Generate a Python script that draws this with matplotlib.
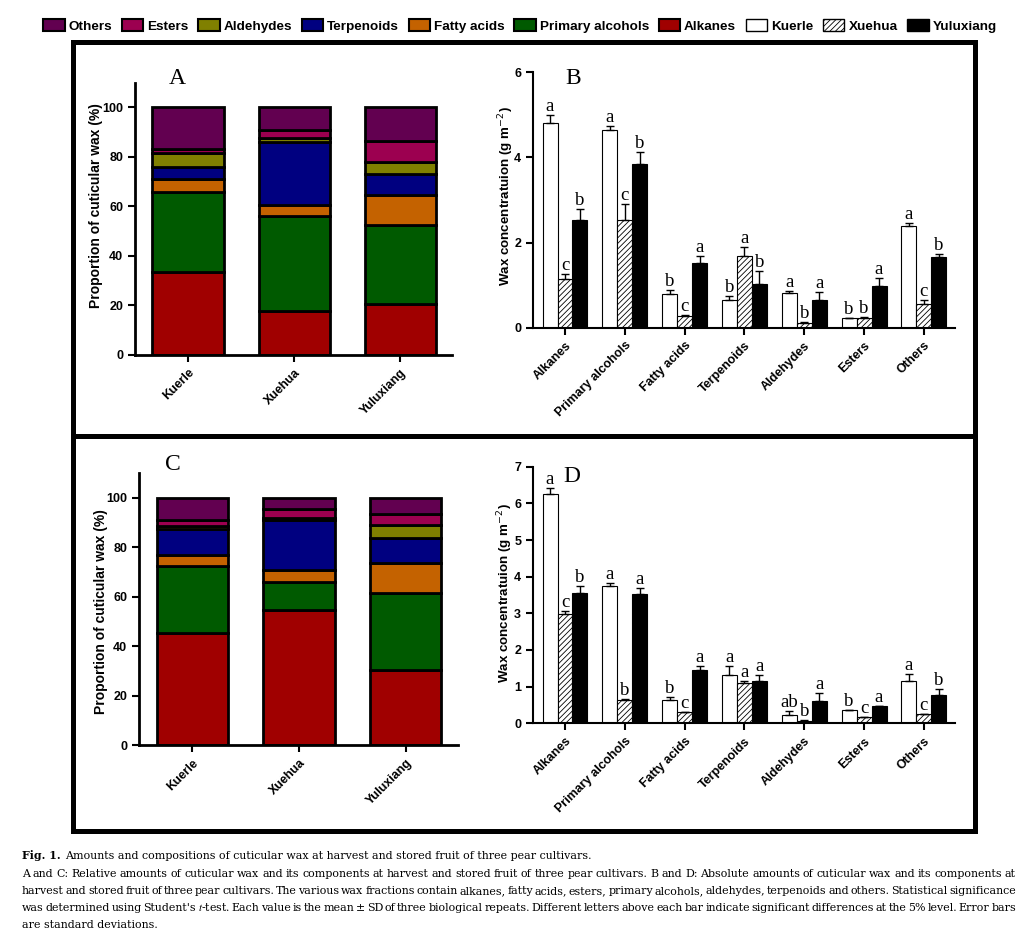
import numpy as np
import matplotlib
matplotlib.use('Agg')
import matplotlib.pyplot as plt
from matplotlib.patches import Patch, Rectangle
from matplotlib.lines import Line2D

# ---- data ----
cultivars = ['Kuerle', 'Xuehua', 'Yuluxiang']
fractions = ['Alkanes', 'Primary alcohols', 'Fatty acids', 'Terpenoids',
             'Aldehydes', 'Esters', 'Others']
frac_colors = ['#a00000', '#005a00', '#c46200', '#000080',
               '#808000', '#9c0050', '#620050']

# A: proportions (%) at harvest, bottom -> top in fractions order
kuerle_A = [33.5, 32.5, 5.0, 5.0, 5.5, 1.5, 17.0]
xuehua_A = [17.5, 38.5, 4.5, 25.5, 1.5, 3.5, 9.0]
yuluxiang_A = [20.5, 32.0, 12.0, 8.5, 5.0, 8.5, 13.5]

# C: proportions (%) of stored fruit
kuerle_C = [45.5, 27.0, 4.5, 10.5, 1.0, 2.5, 9.0]
xuehua_C = [54.5, 11.5, 5.0, 20.0, 1.0, 3.5, 4.5]
yuluxiang_C = [30.5, 31.0, 12.0, 10.5, 5.0, 4.5, 6.5]

# B: absolute amounts (g m-2) at harvest
kuerle_B = [4.80, 4.65, 0.78, 0.66, 0.82, 0.22, 2.38]
kuerle_B_sd = [0.20, 0.08, 0.10, 0.08, 0.04, 0.01, 0.08]
kuerle_B_let = ['a', 'a', 'b', 'b', 'a', 'b', 'a']
xuehua_B = [1.15, 2.53, 0.28, 1.69, 0.12, 0.22, 0.56]
xuehua_B_sd = [0.12, 0.38, 0.02, 0.20, 0.02, 0.03, 0.09]
xuehua_B_let = ['c', 'c', 'c', 'a', 'b', 'b', 'c']
yuluxiang_B = [2.53, 3.85, 1.52, 1.03, 0.66, 0.98, 1.66]
yuluxiang_B_sd = [0.27, 0.27, 0.17, 0.30, 0.17, 0.19, 0.08]
yuluxiang_B_let = ['b', 'b', 'a', 'b', 'a', 'a', 'b']

# D: absolute amounts (g m-2) of stored fruit
kuerle_D = [6.26, 3.75, 0.64, 1.31, 0.23, 0.36, 1.16]
kuerle_D_sd = [0.15, 0.07, 0.07, 0.25, 0.10, 0.01, 0.18]
kuerle_D_let = ['a', 'a', 'b', 'a', 'ab', 'b', 'a']
xuehua_D = [2.98, 0.64, 0.30, 1.09, 0.06, 0.16, 0.25]
xuehua_D_sd = [0.07, 0.02, 0.02, 0.06, 0.02, 0.01, 0.01]
xuehua_D_let = ['c', 'b', 'c', 'a', 'b', 'c', 'c']
yuluxiang_D = [3.55, 3.52, 1.45, 1.16, 0.60, 0.46, 0.77]
yuluxiang_D_sd = [0.20, 0.17, 0.12, 0.15, 0.22, 0.02, 0.16]
yuluxiang_D_let = ['b', 'a', 'a', 'a', 'a', 'a', 'b']

caption_title = 'Amounts and compositions of cuticular wax at harvest and stored fruit of three pear cultivars.'
caption_lines = [
    "A and C: Relative amounts of cuticular wax and its components at harvest and stored fruit of three pear cultivars. B and D: Absolute amounts of cuticular wax and its components at",
    "harvest and stored fruit of three pear cultivars. The various wax fractions contain alkanes, fatty acids, esters, primary alcohols, aldehydes, terpenoids and others. Statistical significance",
    "was determined using Student's $\\mathit{t}$-test. Each value is the mean \u00b1 SD of three biological repeats. Different letters above each bar indicate significant differences at the 5% level. Error bars",
    "are standard deviations.",
]

W, H = 1029, 935
plt.rcParams['font.family'] = ['Liberation Sans', 'DejaVu Sans']
plt.rcParams['hatch.linewidth'] = 0.6


def fx(px):
    return px / W


def fy(py):
    return 1 - py / H


def style_axes(ax, lw=2):
    for s in ['top', 'right']:
        ax.spines[s].set_visible(False)
    for s in ['left', 'bottom']:
        ax.spines[s].set_linewidth(lw)
    ax.tick_params(direction='out', width=1.5, length=5, labelsize=9)
    for lab in ax.get_yticklabels() + ax.get_xticklabels():
        lab.set_fontweight('bold')


def stacked(ax, rows, ylab_pos):
    vals = np.array(rows)
    x = np.arange(len(cultivars))
    bottom = np.zeros(len(cultivars))
    for j, col in enumerate(frac_colors):
        ax.bar(x, vals[:, j], 0.67, bottom=bottom, color=col,
               edgecolor='black', linewidth=2)
        bottom += vals[:, j]
    ax.set_xlim(-0.5, 2.49)
    ax.set_ylim(0, 110)
    ax.set_yticks([0, 20, 40, 60, 80, 100])
    ax.set_xticks(x)
    ax.set_xticklabels(cultivars, rotation=45, ha='right', rotation_mode='anchor')
    ax.set_ylabel('Proportion of cuticular wax (%)', fontsize=10, fontweight='bold')
    ax.yaxis.set_label_coords(*ylab_pos)
    style_axes(ax, 2)


def grouped(ax, series, ymax, ylab_pos):
    pos = np.arange(len(fractions))
    w = 0.25
    styles = [dict(color='white', edgecolor='black'),
              dict(color='white', edgecolor='black', hatch='//////'),
              dict(color='black', edgecolor='black')]
    for i, ((v, sd, let), st) in enumerate(zip(series, styles)):
        xx = pos + (i - 1) * w
        ax.bar(xx, v, w, linewidth=0.8, **st)
        ax.errorbar(xx, v, yerr=[np.zeros(len(v)), sd], fmt='none', ecolor='black',
                    elinewidth=1, capsize=3, capthick=1)
        for xi, vi, si, li in zip(xx, v, sd, let):
            ax.annotate(li, (xi, vi + si), xytext=(0, 0), textcoords='offset points',
                        ha='center', va='bottom', fontsize=13.5, family='Liberation Serif')
    ax.set_xlim(-0.535, 6.52)
    ax.set_ylim(0, ymax)
    ax.set_yticks(np.arange(0, ymax + 1, 2 if ymax == 6 else 1))
    ax.set_xticks(pos)
    ax.set_xticklabels(fractions, rotation=45, ha='right', rotation_mode='anchor')
    ax.set_ylabel('Wax concentratuion (g m$^{-2}$)', fontsize=9.6, fontweight='bold')
    ax.yaxis.set_label_coords(*ylab_pos)
    style_axes(ax, 1.5)


fig = plt.figure(figsize=(W / 100, H / 100), dpi=100)

axA = fig.add_axes([fx(135), fy(354.7), fx(317), 272 / H])
axB = fig.add_axes([fx(533), fy(327.7), fx(422), 255.4 / H])
axC = fig.add_axes([fx(139), fy(745), fx(319), 271.7 / H])
axD = fig.add_axes([fx(533), fy(723.3), fx(422), 256.6 / H])

stacked(axA, [kuerle_A, xuehua_A, yuluxiang_A], (-0.10, 0.55))
stacked(axC, [kuerle_C, xuehua_C, yuluxiang_C], (-0.097, 0.49))
grouped(axB, [(kuerle_B, kuerle_B_sd, kuerle_B_let),
              (xuehua_B, xuehua_B_sd, xuehua_B_let),
              (yuluxiang_B, yuluxiang_B_sd, yuluxiang_B_let)], 6, (-0.04, 0.514))
grouped(axD, [(kuerle_D, kuerle_D_sd, kuerle_D_let),
              (xuehua_D, xuehua_D_sd, xuehua_D_let),
              (yuluxiang_D, yuluxiang_D_sd, yuluxiang_D_let)], 7, (-0.042, 0.506))

# panel letters
for lab, (px, py) in zip('ABCD', [(177, 78), (573, 78), (173, 464), (572, 477)]):
    fig.text(fx(px), fy(py), lab, fontsize=17, family='Liberation Serif',
             ha='center', va='center')

# panel frames
fig.add_artist(Rectangle((fx(72.5), fy(830.5)), fx(902), 789 / H, fill=False,
                         linewidth=3.6, edgecolor='black', transform=fig.transFigure))
fig.add_artist(Line2D([fx(72.5), fx(974.5)], [fy(435.5), fy(435.5)],
                      linewidth=3.6, color='black', transform=fig.transFigure))

# legend
handles = [Patch(facecolor=c, edgecolor='black', linewidth=1.5)
           for c in frac_colors[::-1]]
handles += [Patch(facecolor='white', edgecolor='black', linewidth=1),
            Patch(facecolor='white', edgecolor='black', linewidth=1, hatch='//////'),
            Patch(facecolor='black', edgecolor='black', linewidth=1)]
labels = fractions[::-1] + cultivars
fig.legend(handles, labels, loc='center', bbox_to_anchor=(fx(520), fy(26)), ncol=10,
           frameon=False, prop=dict(weight='bold', size=9.7), handlelength=1.6,
           handleheight=0.9, handletextpad=0.3, columnspacing=0.7, borderpad=0)

# caption
renderer = fig.canvas.get_renderer()
cap_kw = dict(fontsize=7.9, family=['DejaVu Serif'], math_fontfamily='stix', va='baseline')
t1 = fig.text(fx(22), fy(859), 'Fig. 1.', fontweight='bold', **cap_kw)
w1 = t1.get_window_extent(renderer).width
fig.text(fx(22 + w1 + 4), fy(859), caption_title, **cap_kw)

x0, x1 = 22, 1016
for k, line in enumerate(caption_lines):
    yb = fy(877 + 17 * k)
    words = line.split(' ')
    if k == len(caption_lines) - 1:
        fig.text(fx(x0), yb, line, **cap_kw)
        continue
    arts = [fig.text(0, yb, wd, **cap_kw) for wd in words]
    widths = [a.get_window_extent(renderer).width for a in arts]
    gap = (x1 - x0 - sum(widths)) / (len(words) - 1)
    xc = x0
    for a, wd in zip(arts, widths):
        a.set_x(fx(xc))
        xc += wd + gap

fig.savefig('out.png', dpi=100)
